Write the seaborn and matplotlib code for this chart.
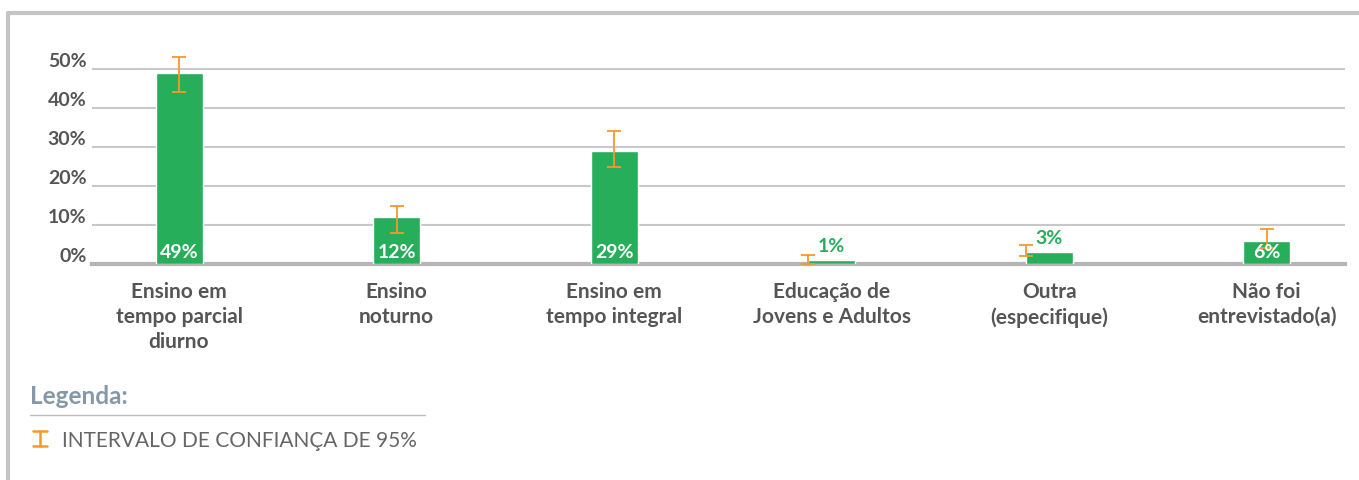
import matplotlib
matplotlib.use("Agg")
import matplotlib.pyplot as plt
from matplotlib.lines import Line2D
import numpy as np
import pandas as pd
import seaborn as sns

categories = ["Ensino em\ntempo parcial\ndiurno", "Ensino\nnoturno", "Ensino em\ntempo integral",
              "Educação de\nJovens e Adultos", "Outra\n(especifique)", "Não foi\nentrevistado(a)"]
values = [49, 12, 29, 1, 3, 6]
ci_low = [44, 8, 25, 0, 2, 4]
ci_high = [53, 15, 34, 2.3, 5, 9]
labels_inside = [True, True, True, False, False, True]
# the error bars of two small bars sit on the left edge of the bar in the original
err_shift = [0, 0, 0, -0.5, -0.5, 0]

GREEN = "#27AE5A"
ORANGE = "#F39A2B"
GREY_TXT = "#555555"

sns.set_theme(style="white")
plt.rcParams["font.family"] = ["Lato", "DejaVu Sans"]

df = pd.DataFrame({"cat": categories, "val": values})

fig = plt.figure(figsize=(13.59, 4.81), dpi=100)
ax = fig.add_axes([92 / 1359, 216 / 481, (1345 - 92) / 1359, (265 - 50.5) / 481])

bar_w = 0.216
sns.barplot(data=df, x="cat", y="val", color=GREEN, width=bar_w, saturation=1, ax=ax, zorder=3)

xs = np.arange(len(values))
ex = xs + np.array(err_shift) * bar_w
mid = (np.array(ci_low) + np.array(ci_high)) / 2
ax.errorbar(ex, mid, yerr=(np.array(ci_high) - np.array(ci_low)) / 2, fmt="none",
            ecolor=ORANGE, elinewidth=1.3, capsize=5, capthick=1.3, zorder=4)

for x, v, inside in zip(xs, values, labels_inside):
    if inside:
        ax.text(x, 0.9, f"{v}%", ha="center", va="bottom", color="white",
                fontsize=14, fontweight="bold", zorder=5)
    else:
        ax.text(x, v + 1.5, f"{v}%", ha="center", va="bottom", color=GREEN,
                fontsize=14, fontweight="bold", zorder=5)

ax.set_ylim(0, 55)
ax.set_xlim(-0.4, 5.36)
ax.set_yticks([0, 10, 20, 30, 40, 50])
ax.set_yticklabels([f"{t}%" for t in [0, 10, 20, 30, 40, 50]])
ax.yaxis.grid(True, color="#c8c8c8", linewidth=1.5, zorder=0)
ax.set_axisbelow(True)
for s in ["top", "right", "left"]:
    ax.spines[s].set_visible(False)
ax.spines["bottom"].set_color("#b5b5b5")
ax.spines["bottom"].set_linewidth(3)
ax.set_xlabel("")
ax.set_ylabel("")
ax.tick_params(axis="y", length=0, pad=4, labelsize=14, labelcolor=GREY_TXT)
ax.tick_params(axis="x", length=0, pad=12, labelsize=15, labelcolor=GREY_TXT)
for t in ax.get_yticklabels():
    t.set_fontweight("bold")
    t.set_va("bottom")
for t in ax.get_xticklabels():
    t.set_fontweight("bold")
    t.set_linespacing(1.32)

# outer frame (top and left only)
fig.add_artist(Line2D([8 / 1359, 1], [1 - 14 / 481] * 2, color="#c4c4c4", linewidth=3))
fig.add_artist(Line2D([8 / 1359] * 2, [0, 1 - 14 / 481], color="#c4c4c4", linewidth=3))

# legend block
fig.text(30 / 1359, 1 - 397 / 481, "Legenda:", ha="left", va="center", fontsize=17.5,
         fontweight="bold", color="#8498a8")
fig.add_artist(Line2D([30 / 1359, 425 / 1359], [1 - 416 / 481] * 2, color="#bdbdbd", linewidth=1))
ix = 40 / 1359
fig.add_artist(Line2D([ix, ix], [1 - 432 / 481, 1 - 447 / 481], color=ORANGE, linewidth=1.8))
for yy in (432, 447):
    fig.add_artist(Line2D([33 / 1359, 47 / 1359], [1 - yy / 481] * 2, color=ORANGE, linewidth=1.8))
fig.text(62 / 1359, 1 - 441 / 481, "INTERVALO DE CONFIANÇA DE 95%", ha="left", va="center",
         fontsize=15, color="#666666")

fig.savefig("out.png", dpi=100)
